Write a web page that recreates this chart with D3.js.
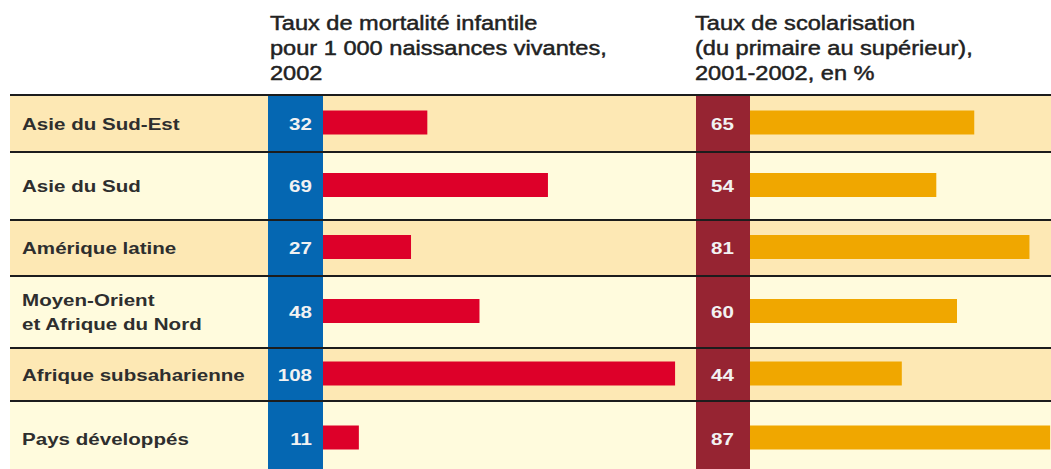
<!DOCTYPE html>
<html>
<head>
<meta charset="utf-8">
<script src="https://cdn.jsdelivr.net/npm/d3@7"></script>
<style>
  html, body { margin: 0; padding: 0; background: #fff; }
  svg { display: block; }
</style>
</head>
<body>
<script>
// Data
var regions = [
  ['Asie du Sud-Est'],
  ['Asie du Sud'],
  ['Amérique latine'],
  ['Moyen-Orient', 'et Afrique du Nord'],
  ['Afrique subsaharienne'],
  ['Pays développés']
];
var mortalite = [32, 69, 27, 48, 108, 11];
var scolarisation = [65, 54, 81, 60, 44, 87];
var titreMortalite = ['Taux de mortalité infantile', 'pour 1 000 naissances vivantes,', '2002'];
var titreScolarisation = ['Taux de scolarisation', '(du primaire au supérieur),', '2001-2002, en %'];

// Layout
var width = 1051,
  height = 469;
var rowHeights = [57, 68, 56, 72, 53, 75];
var tableTop = 95;
var stretch = 1.21; // the source typeface is wider than Liberation Sans

var rowTops = [];
var acc = tableTop;
rowHeights.forEach(function(h) { rowTops.push(acc); acc += h; });
var tableBottom = acc;

var svg = d3.select('body')
  .append('svg')
  .attr('width', width)
  .attr('height', height);

// Scales for the two bar groups
var xMort = d3.scaleLinear().domain([0, 100]).range([323, 323 + 326]);
var xScol = d3.scaleLinear().domain([0, 100]).range([750, 750 + 345]);

function rowCenter(i) { return rowTops[i] + rowHeights[i] / 2; }

// Row backgrounds
svg.append('g').selectAll('rect')
  .data(regions)
  .enter()
  .append('rect')
  .attr('x', 10)
  .attr('y', function(d, i) { return rowTops[i]; })
  .attr('width', width - 10)
  .attr('height', function(d, i) { return rowHeights[i]; })
  .attr('fill', function(d, i) { return i % 2 === 0 ? '#fde8b4' : '#fffbdd'; });

// Value columns
svg.append('rect')
  .attr('x', 268).attr('y', tableTop)
  .attr('width', xMort(0) - 268).attr('height', tableBottom - tableTop)
  .attr('fill', '#0567b2');
svg.append('rect')
  .attr('x', 696).attr('y', tableTop)
  .attr('width', xScol(0) - 696).attr('height', tableBottom - tableTop)
  .attr('fill', '#962432');

// Bars
var barH = 24;
svg.append('g').selectAll('rect')
  .data(mortalite)
  .enter()
  .append('rect')
  .attr('x', xMort(0))
  .attr('y', function(d, i) { return rowCenter(i) - barH / 2 - 1; })
  .attr('width', function(d) { return xMort(d) - xMort(0); })
  .attr('height', barH)
  .attr('fill', '#dd0029');

svg.append('g').selectAll('rect')
  .data(scolarisation)
  .enter()
  .append('rect')
  .attr('x', xScol(0))
  .attr('y', function(d, i) { return rowCenter(i) - barH / 2 - 1; })
  .attr('width', function(d) { return xScol(d) - xScol(0); })
  .attr('height', barH)
  .attr('fill', '#f0a700');

// Separator lines
svg.append('g').selectAll('line')
  .data(rowTops)
  .enter()
  .append('line')
  .attr('x1', 10).attr('x2', width)
  .attr('y1', function(d) { return d; })
  .attr('y2', function(d) { return d; })
  .attr('stroke', '#1c1c1c')
  .attr('stroke-width', 2);

// Stretched text helper
function addText(parent, x, y, str, opts) {
  return parent.append('text')
    .attr('transform', 'translate(' + x + ',' + y + ') scale(' + stretch + ',1)')
    .attr('text-anchor', opts.anchor || 'start')
    .attr('font-family', '"Liberation Sans", Arial, sans-serif')
    .attr('font-size', opts.size)
    .attr('font-weight', opts.weight || 'normal')
    .attr('fill', opts.fill || '#262626')
    .attr('stroke', opts.stroke ? opts.fill : 'none')
    .attr('stroke-width', opts.stroke || 0)
    .text(str);
}

var txt = svg.append('g');

// Headers
titreMortalite.forEach(function(s, k) {
  addText(txt, 270, 30 + k * 25, s, { size: 19.5, fill: '#222', stroke: 0.45 });
});
titreScolarisation.forEach(function(s, k) {
  addText(txt, 695, 30 + k * 25, s, { size: 19.5, fill: '#222', stroke: 0.45 });
});

// Row labels
regions.forEach(function(lines, i) {
  var c = rowCenter(i);
  lines.forEach(function(s, k) {
    var y = c + 6 + (k - (lines.length - 1) / 2) * 24.5;
    addText(txt, 22, y, s, { size: 17, weight: 'bold', fill: '#2e2e2e' });
  });
});

// Values
mortalite.forEach(function(v, i) {
  addText(txt, 312, rowCenter(i) + 6, v, { size: 17, weight: 'bold', fill: '#f2f2f2', anchor: 'end' });
});
scolarisation.forEach(function(v, i) {
  addText(txt, 734, rowCenter(i) + 6, v, { size: 17, weight: 'bold', fill: '#f2f2f2', anchor: 'end' });
});
</script>
</body>
</html>
